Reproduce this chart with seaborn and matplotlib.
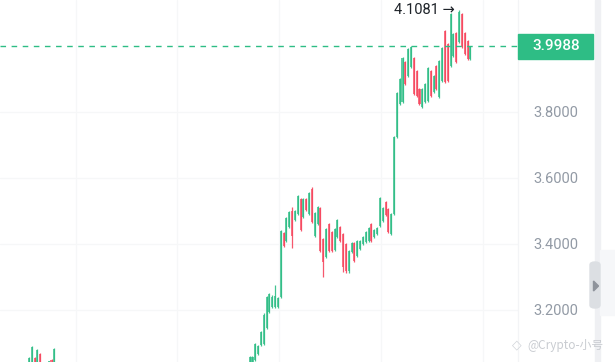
import pandas as pd
import matplotlib
matplotlib.use("Agg")
import matplotlib.pyplot as plt
from matplotlib.patches import Rectangle, FancyBboxPatch, Polygon
import seaborn as sns

# candle positions (one step per candle); candles hidden below the view are left out
idx = [-78, -77, -76, -75, -74, -71, -70, -69] + list(range(0, 79))

opens = [3.030, 3.030, 3.055, 3.035, 3.066, 3.030, 3.049, 3.030,
         3.035, 3.040, 3.048, 3.066, 3.094, 3.098, 3.146, 3.195, 3.210, 3.210,
         3.210, 3.238, 3.432, 3.410, 3.452, 3.500, 3.473, 3.492, 3.536, 3.482,
         3.536, 3.492, 3.568, 3.424, 3.461, 3.509, 3.415, 3.362, 3.460, 3.436,
         3.382, 3.421, 3.451, 3.430, 3.400, 3.318, 3.376, 3.403, 3.364, 3.385,
         3.400, 3.406, 3.409, 3.460, 3.421, 3.430, 3.455, 3.470, 3.527, 3.506,
         3.430, 3.491, 3.724, 3.824, 3.830, 3.951, 3.909, 3.936, 3.963, 3.924,
         3.870, 3.815, 3.830, 3.833, 3.924, 3.861, 3.939, 3.845, 3.894, 4.045,
         4.006, 3.939, 3.970, 4.039, 4.012, 4.097, 4.039, 4.015, 3.961]
highs = [3.058, 3.091, 3.058, 3.082, 3.070, 3.046, 3.052, 3.085,
         3.061, 3.062, 3.100, 3.094, 3.137, 3.191, 3.242, 3.252, 3.246, 3.276,
         3.239, 3.442, 3.436, 3.482, 3.500, 3.512, 3.503, 3.548, 3.539, 3.539,
         3.539, 3.558, 3.573, 3.497, 3.515, 3.512, 3.418, 3.448, 3.464, 3.439,
         3.448, 3.476, 3.455, 3.433, 3.403, 3.382, 3.406, 3.406, 3.412, 3.412,
         3.424, 3.439, 3.452, 3.464, 3.445, 3.452, 3.542, 3.512, 3.530, 3.509,
         3.494, 3.727, 3.861, 3.903, 3.967, 3.955, 3.994, 4.000, 3.967, 3.927,
         3.873, 3.873, 3.888, 3.936, 3.927, 3.912, 3.942, 3.958, 3.997, 4.048,
         4.009, 4.100, 4.039, 4.042, 4.1081, 4.100, 4.042, 4.018, 4.000]
lows = [3.020, 3.020, 3.020, 3.020, 3.020, 3.020, 3.020, 3.020,
        3.030, 3.030, 3.044, 3.063, 3.090, 3.094, 3.142, 3.191, 3.206, 3.206,
        3.206, 3.236, 3.391, 3.406, 3.448, 3.388, 3.470, 3.488, 3.439, 3.479,
        3.500, 3.488, 3.464, 3.421, 3.458, 3.376, 3.300, 3.358, 3.376, 3.376,
        3.379, 3.418, 3.406, 3.315, 3.312, 3.312, 3.373, 3.345, 3.361, 3.382,
        3.397, 3.403, 3.406, 3.406, 3.418, 3.427, 3.452, 3.467, 3.485, 3.433,
        3.427, 3.488, 3.721, 3.821, 3.827, 3.882, 3.906, 3.933, 3.852, 3.846,
        3.821, 3.812, 3.827, 3.830, 3.846, 3.858, 3.867, 3.842, 3.891, 3.888,
        3.891, 3.936, 3.967, 3.948, 4.009, 3.994, 3.973, 3.958, 3.958]
closes = [3.055, 3.088, 3.030, 3.079, 3.030, 3.044, 3.030, 3.082,
          3.058, 3.058, 3.097, 3.090, 3.133, 3.186, 3.238, 3.248, 3.240, 3.242,
          3.236, 3.438, 3.394, 3.478, 3.496, 3.424, 3.500, 3.545, 3.443, 3.536,
          3.503, 3.554, 3.467, 3.494, 3.512, 3.380, 3.345, 3.444, 3.380, 3.380,
          3.445, 3.473, 3.409, 3.330, 3.318, 3.378, 3.403, 3.349, 3.409, 3.409,
          3.421, 3.436, 3.448, 3.409, 3.442, 3.448, 3.538, 3.508, 3.488, 3.436,
          3.491, 3.724, 3.857, 3.900, 3.963, 3.885, 3.990, 3.996, 3.855, 3.849,
          3.824, 3.870, 3.885, 3.933, 3.849, 3.909, 3.870, 3.955, 3.994, 3.891,
          3.894, 4.097, 4.036, 3.952, 4.104, 3.997, 3.976, 3.961, 3.9988]

price_ticks = [3.2, 3.4, 3.6, 3.8]
last_price = 3.9988
peak_price = 4.1081
peak_idx = 74
watermark = "@Crypto-小号"

UP = "#2ebd85"
DOWN = "#f6465d"
LABEL = "#929aa5"

sns.set_theme(style="white")
plt.rcParams["font.family"] = ["Roboto", "DejaVu Sans"]

df = pd.DataFrame({"i": idx, "open": opens, "high": highs, "low": lows, "close": closes})
df["up"] = df["close"] >= df["open"]
df["color"] = df["up"].map({True: UP, False: DOWN})
df["body_lo"] = df[["open", "close"]].min(axis=1)
df["body_h"] = (df["open"] - df["close"]).abs()

W, H = 615, 362
fig = plt.figure(figsize=(W / 100, H / 100), dpi=100)
ax = fig.add_axes([0, 0, 518 / W, 1])
ax.set_xlim(-88.2, 94.8)
ax.set_ylim(3.0424, 4.1394)
for s in ax.spines.values():
    s.set_visible(False)

# faint grid
for p in price_ticks:
    ax.axhline(p, color="#f6f7f8", lw=0.9, zorder=0)
for gx in [-61.5, -25.5, 10.5, 46.5, 82.5]:
    ax.axvline(gx, color="#f6f7f8", lw=0.9, zorder=0)

# candles
ax.vlines(df["i"], df["low"], df["high"], colors=df["color"], lw=0.9, alpha=0.9, zorder=2)
ax.bar(df["i"], df["body_h"], bottom=df["body_lo"], width=0.72, color=df["color"],
       alpha=0.75, linewidth=0, zorder=3)

# last price dashed line
ax.axhline(last_price, color=UP, lw=1.0, ls=(0, (4, 4)), zorder=4)

# right price axis
ax.yaxis.tick_right()
ax.set_yticks(price_ticks)
ax.set_yticklabels([f"{p:.4f}" for p in price_ticks])
ax.tick_params(axis="y", length=0, pad=11, labelcolor=LABEL, labelsize=10.5)
for t in ax.get_yticklabels():
    t.set_horizontalalignment("left")
ax.set_xticks([])

# separator between plot and price axis
fig.add_artist(plt.Line2D([518 / W, 518 / W], [0, 1], color="#f3f4f6", lw=0.9))

# last price badge
y_last = ax.transData.transform((0, last_price))[1] / H
fig.add_artist(Rectangle((518 / W, y_last - 12.5 / H), 75 / W, 25 / H,
                         transform=fig.transFigure, color=UP, zorder=5))
fig.text(532 / W, y_last, f"{last_price:.4f}", color="white", fontsize=11,
         fontweight="medium", va="center", ha="left", zorder=6)

# peak annotation
ax.text(peak_idx - 1.6, peak_price, f"{peak_price:.4f} →", color="#1e2329",
        fontsize=10.5, ha="right", va="center", zorder=6)

# right-hand side strip and scroll handle
fig.add_artist(Rectangle((595 / W, 0), 5 / W, 1, transform=fig.transFigure,
                         color="#eff0f3", zorder=1))
fig.add_artist(Rectangle((600 / W, 1 - 315 / H), 15 / W, 65 / H, transform=fig.transFigure,
                         color="#f6f7f9", zorder=1))
fig.add_artist(FancyBboxPatch((590 / W, 1 - 308 / H), 10 / W, 46 / H,
                              boxstyle="round,pad=0,rounding_size=0.008",
                              transform=fig.transFigure, color="#dcdfe3", zorder=2))
fig.add_artist(Polygon([(593.5 / W, 1 - 281 / H), (593.5 / W, 1 - 291 / H), (598.5 / W, 1 - 286 / H)],
                       closed=True, transform=fig.transFigure, color="#8e939b", zorder=3))

# watermark
fig.text(517 / W, 1 - 345 / H, "◇", color="#d0d3d8", fontsize=9, ha="center", va="center",
         family=["DejaVu Sans"])
fig.text(527 / W, 1 - 345 / H, watermark, color="#c9ccd1", fontsize=8.5, ha="left", va="center",
         family=["Noto Sans CJK SC", "DejaVu Sans"])

fig.savefig("out.png", dpi=100)
